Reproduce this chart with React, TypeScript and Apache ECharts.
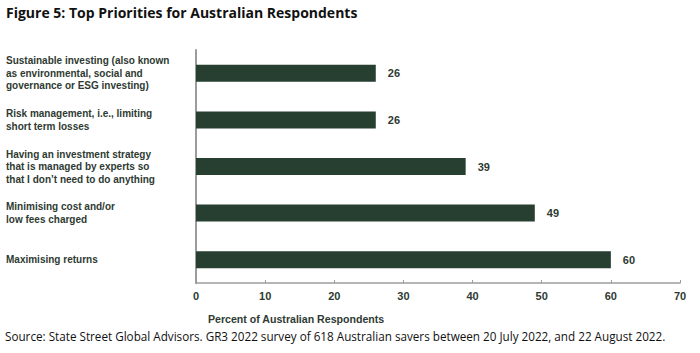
import React, { useEffect, useRef } from "react";
import * as echarts from "echarts";

const categories = [
  "Sustainable investing (also known\nas environmental, social and\ngovernance or ESG investing)",
  "Risk management, i.e., limiting\nshort term losses",
  "Having an investment strategy\nthat is managed by experts so\nthat I don\u2019t need to do anything",
  "Minimising cost and/or\nlow fees charged",
  "Maximising returns",
];
const values = [26, 26, 39, 49, 60];
const xTicks = { min: 0, max: 70, interval: 10 };
const titleText = "Figure 5: Top Priorities for Australian Respondents";
const axisTitle = "Percent of Australian Respondents";
const sourceText =
  "Source: State Street Global Advisors. GR3 2022 survey of 618 Australian savers between 20 July 2022, and 22 August 2022.";

const BAR = "#263f31";
const TEXT = "#2e3a32";
const FONT = "'Liberation Sans', Arial, sans-serif";

export default function App() {
  const ref = useRef<HTMLDivElement>(null);
  useEffect(() => {
    if (!ref.current) return;
    const chart = echarts.init(ref.current, undefined, { renderer: "svg" });
    chart.setOption({
      animation: false,
      backgroundColor: "#ffffff",
      grid: { left: 196, right: 20, top: 50, bottom: 70, containLabel: false },
      xAxis: {
        type: "value",
        min: xTicks.min,
        max: xTicks.max,
        interval: xTicks.interval,
        axisLine: { show: true, lineStyle: { color: "#9a9e9a", width: 1.5 } },
        axisTick: { show: true, inside: true, length: 3, lineStyle: { color: "#9a9e9a" } },
        splitLine: { show: false },
        axisLabel: {
          color: TEXT,
          fontFamily: FONT,
          fontWeight: "bold",
          fontSize: 11,
          margin: 7,
        },
      },
      yAxis: {
        type: "category",
        data: categories,
        inverse: true,
        axisLine: { show: true, lineStyle: { color: "#9a9e9a", width: 2 } },
        axisTick: { show: false },
        axisLabel: {
          align: "left",
          margin: 190,
          color: TEXT,
          fontFamily: FONT,
          fontWeight: "bold",
          fontSize: 10,
          lineHeight: 12.5,
        },
      },
      series: [
        {
          type: "bar",
          data: values,
          barWidth: 17,
          itemStyle: { color: BAR },
          label: {
            show: true,
            position: "right",
            distance: 12,
            color: TEXT,
            fontFamily: FONT,
            fontWeight: "bold",
            fontSize: 11,
          },
        },
      ],
      graphic: [
        {
          type: "text",
          left: 6,
          top: 5,
          style: {
            text: titleText,
            font: "bold 14px 'Open Sans', 'Liberation Sans', sans-serif",
            fill: "#111111",
          },
        },
        {
          type: "text",
          left: 208,
          top: 313,
          style: {
            text: axisTitle,
            font: `bold 10.6px ${FONT}`,
            fill: TEXT,
          },
        },
        {
          type: "text",
          left: 5,
          top: 330,
          style: {
            text: sourceText,
            font: "11.7px 'Open Sans', 'Liberation Sans', sans-serif",
            fill: "#111111",
          },
        },
      ],
    });
    return () => chart.dispose();
  }, []);
  return <div ref={ref} style={{ width: 700, height: 353, position: "fixed", left: 0, top: 0 }} />;
}
